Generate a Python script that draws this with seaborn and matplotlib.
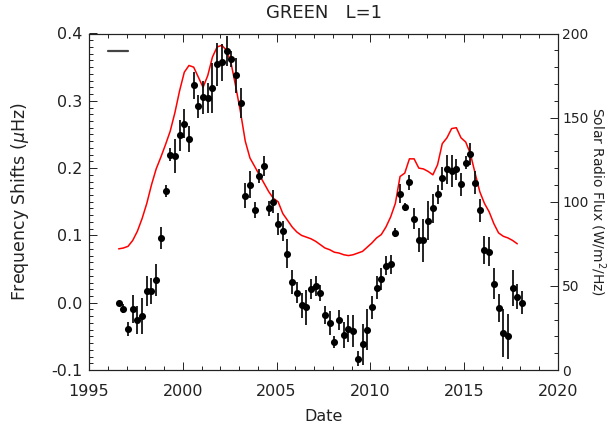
import numpy as np
import pandas as pd
import matplotlib
matplotlib.use("Agg")
import matplotlib.pyplot as plt
from matplotlib.ticker import MultipleLocator, FormatStrFormatter
from matplotlib.lines import Line2D
import seaborn as sns

# p-mode frequency shifts (quarterly, 1-year windows) and 10.7 cm radio flux
dates = [1996.58, 1996.83, 1997.08, 1997.33, 1997.58, 1997.83, 1998.08, 1998.33,
         1998.58, 1998.83, 1999.08, 1999.33, 1999.58, 1999.83, 2000.08, 2000.33,
         2000.58, 2000.83, 2001.08, 2001.33, 2001.58, 2001.83, 2002.08, 2002.33,
         2002.58, 2002.83, 2003.08, 2003.33, 2003.58, 2003.83, 2004.08, 2004.33,
         2004.58, 2004.83, 2005.08, 2005.33, 2005.58, 2005.83, 2006.08, 2006.33,
         2006.58, 2006.83, 2007.08, 2007.33, 2007.58, 2007.83, 2008.08, 2008.33,
         2008.58, 2008.83, 2009.08, 2009.33, 2009.58, 2009.83, 2010.08, 2010.33,
         2010.58, 2010.83, 2011.08, 2011.33, 2011.58, 2011.83, 2012.08, 2012.33,
         2012.58, 2012.83, 2013.08, 2013.33, 2013.58, 2013.83, 2014.08, 2014.33,
         2014.58, 2014.83, 2015.08, 2015.33, 2015.58, 2015.83, 2016.08, 2016.33,
         2016.58, 2016.83, 2017.08, 2017.33, 2017.58, 2017.83, 2018.08]

shifts = [-0.001, -0.009, -0.039, -0.009, -0.026, -0.020, 0.017, 0.017,
          0.034, 0.096, 0.166, 0.220, 0.218, 0.249, 0.266, 0.243,
          0.323, 0.292, 0.305, 0.304, 0.319, 0.354, 0.357, 0.374,
          0.362, 0.338, 0.297, 0.159, 0.175, 0.138, 0.188, 0.203,
          0.140, 0.150, 0.117, 0.107, 0.073, 0.031, 0.015, -0.004,
          -0.007, 0.020, 0.025, 0.014, -0.018, -0.030, -0.059, -0.026,
          -0.048, -0.039, -0.042, -0.083, -0.062, -0.040, -0.007, 0.022,
          0.035, 0.055, 0.057, 0.104, 0.162, 0.142, 0.179, 0.125,
          0.093, 0.093, 0.122, 0.140, 0.161, 0.185, 0.198, 0.196,
          0.198, 0.176, 0.208, 0.221, 0.178, 0.137, 0.078, 0.076,
          0.028, -0.008, -0.045, -0.050, 0.022, 0.009, 0.000]

shift_err = [0.004, 0.007, 0.011, 0.021, 0.021, 0.027, 0.022, 0.019,
             0.024, 0.016, 0.009, 0.010, 0.025, 0.023, 0.022, 0.019,
             0.020, 0.017, 0.024, 0.022, 0.037, 0.032, 0.027, 0.022,
             0.012, 0.026, 0.022, 0.019, 0.020, 0.012, 0.010, 0.015,
             0.011, 0.017, 0.017, 0.015, 0.022, 0.018, 0.016, 0.019,
             0.026, 0.015, 0.015, 0.012, 0.013, 0.018, 0.009, 0.015,
             0.019, 0.020, 0.024, 0.011, 0.030, 0.030, 0.017, 0.017,
             0.016, 0.014, 0.014, 0.007, 0.014, 0.006, 0.011, 0.016,
             0.018, 0.032, 0.029, 0.022, 0.014, 0.017, 0.022, 0.024,
             0.015, 0.017, 0.010, 0.016, 0.017, 0.017, 0.021, 0.021,
             0.023, 0.021, 0.035, 0.033, 0.027, 0.019, 0.017]

flux_dates = dates[:-1]
flux = [72.0, 72.5, 73.5, 77.0, 82.5, 90.0, 99.0, 110.0,
        119.5, 126.5, 134.0, 142.0, 153.0, 166.0, 177.0, 181.0,
        180.0, 174.0, 168.0, 175.0, 186.0, 192.0, 193.0, 190.0,
        182.0, 168.0, 153.0, 136.0, 126.0, 121.0, 116.0, 111.0,
        106.0, 102.0, 100.0, 93.0, 89.0, 85.0, 82.0, 80.0,
        79.0, 78.0, 76.5, 74.5, 72.5, 71.5, 70.0, 69.5,
        68.5, 68.0, 68.5, 69.5, 70.5, 73.0, 75.5, 78.5,
        80.5, 85.0, 91.0, 99.0, 115.0, 117.0, 125.5, 125.5,
        120.0, 119.5, 118.0, 116.0, 122.0, 134.5, 138.0, 143.5,
        144.0, 138.0, 135.5, 128.5, 117.0, 106.0, 99.0, 94.0,
        87.0, 81.5, 79.5, 78.5, 77.0, 75.0]

shift_df = pd.DataFrame({"date": dates, "shift": shifts, "err": shift_err})
flux_df = pd.DataFrame({"date": flux_dates, "flux": flux})

sns.set_style("white")
plt.rcParams["font.family"] = ["DejaVu Sans"]
plt.rcParams["axes.linewidth"] = 0.8

fig = plt.figure(figsize=(6.11, 4.24), dpi=100)
ax = fig.add_axes([89 / 611, 54 / 424, (558 - 89) / 611, (370 - 33.5) / 424])
ax2 = ax.twinx()

# radio flux on the right-hand axis
sns.lineplot(data=flux_df, x="date", y="flux", ax=ax2, color="#ff0000",
             linewidth=1.1, legend=False)

# frequency shifts with error bars on the left-hand axis
ax.errorbar(shift_df["date"], shift_df["shift"], yerr=shift_df["err"],
            fmt="none", ecolor="#111111", elinewidth=1.3, capsize=0, zorder=3)
sns.scatterplot(data=shift_df, x="date", y="shift", ax=ax, color="black",
                s=26, edgecolor="black", linewidth=0, zorder=4, legend=False)

ax.set_zorder(ax2.get_zorder() + 1)
ax.patch.set_visible(False)

ax.set_xlim(1995, 2020)
ax.set_ylim(-0.1, 0.4)
ax2.set_ylim(0, 200)

ax.xaxis.set_major_locator(MultipleLocator(5))
ax.xaxis.set_minor_locator(MultipleLocator(1))
ax.yaxis.set_major_locator(MultipleLocator(0.1))
ax.yaxis.set_minor_locator(MultipleLocator(0.01))
ax.yaxis.set_major_formatter(FormatStrFormatter("%.1f"))
ax2.yaxis.set_major_locator(MultipleLocator(50))
ax2.yaxis.set_minor_locator(MultipleLocator(10))

ax.tick_params(which="both", direction="in", top=True, right=False,
               bottom=True, left=True, color="#222222", width=0.7,
               labelsize=11.5, labelcolor="#222222")
ax.tick_params(axis="y", pad=5)
ax.tick_params(axis="x", pad=10)
ax.tick_params(which="major", length=6)
ax.tick_params(which="minor", length=3)
ax2.tick_params(which="both", direction="in", left=False, right=True,
                color="#222222", width=0.7, labelsize=10, pad=3,
                labelcolor="#222222")
ax2.tick_params(which="major", length=6)
ax2.tick_params(which="minor", length=3)

for a in (ax, ax2):
    for sp in a.spines.values():
        sp.set_color("#222222")
        sp.set_linewidth(0.8)

ax.set_title("GREEN   L=1", fontsize=13, color="#222222", pad=11)
ax.set_xlabel("Date", fontsize=11.5, color="#222222", labelpad=7)
ax.set_ylabel(r"Frequency Shifts ($\mu$Hz)", fontsize=12.5, color="#222222",
              labelpad=14)
ax2.set_ylabel("Solar Radio Flux (W/m$^2$/Hz)", fontsize=10, color="#222222",
               rotation=270, labelpad=14)

ax.legend(handles=[Line2D([], [], color="#444444", linewidth=1.6)], labels=[""],
          loc="upper left", frameon=False, handlelength=1.4,
          borderaxespad=0.3, bbox_to_anchor=(0.02, 0.995))

fig.savefig("out.png", dpi=100)
